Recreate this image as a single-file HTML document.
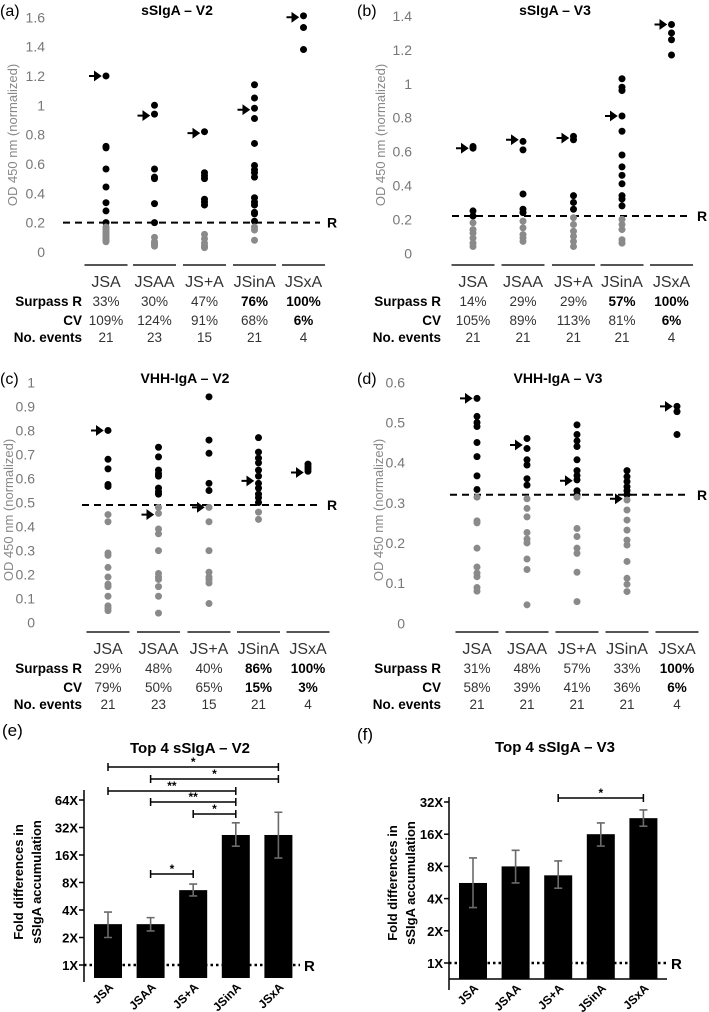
<!DOCTYPE html>
<html><head><meta charset="utf-8"><style>
html,body{margin:0;padding:0;background:#fff;}
svg{display:block;font-family:"Liberation Sans",Arial,sans-serif;}
</style></head><body>
<svg id="fig" width="709" height="1012" viewBox="0 0 709 1012" xmlns="http://www.w3.org/2000/svg"></svg>
<script>
const cats=["JSA","JSAA","JS+A","JSinA","JSxA"];
// Panel a: sSIgA V2
const aVals=[[1.2,0.72,0.71,0.566,0.443,0.336,0.28,0.2,0.17,0.15,0.13,0.11,0.10,0.09,0.08,0.08,0.07,0.12,0.14,0.16,0.09],
[1.0,0.94,0.566,0.51,0.5,0.33,0.2,0.1,0.06,0.04,0.05,0.07],
[0.82,0.54,0.52,0.5,0.36,0.34,0.32,0.12,0.09,0.06,0.03,0.04],
[1.14,1.05,0.98,0.91,0.74,0.59,0.56,0.54,0.51,0.37,0.34,0.32,0.27,0.26,0.21,0.17,0.15,0.08],
[1.61,1.53,1.38]];
const aArrow=[1.2,0.93,0.81,0.97,1.6];
const aR=0.2;
const aTicks=[0,0.2,0.4,0.6,0.8,1,1.2,1.4,1.6];
const aSurpass=["33%","30%","47%","76%","100%"];
const aCV=["109%","124%","91%","68%","6%"];
const aN=["21","23","15","21","4"];
// Panel b: sSIgA V3
const bVals=[[0.63,0.62,0.25,0.22,0.18,0.14,0.12,0.09,0.06,0.04],
[0.66,0.61,0.35,0.26,0.24,0.19,0.15,0.11,0.09,0.07],
[0.69,0.67,0.34,0.30,0.26,0.21,0.17,0.13,0.10,0.07,0.04],
[1.03,0.98,0.96,0.81,0.72,0.58,0.51,0.46,0.41,0.34,0.32,0.28,0.2,0.17,0.14,0.08,0.06],
[1.35,1.30,1.26,1.17]];
const bArrow=[0.62,0.67,0.68,0.81,1.35];
const bR=0.22;
const bTicks=[0,0.2,0.4,0.6,0.8,1,1.2,1.4];
const bSurpass=["14%","29%","29%","57%","100%"];
const bCV=["105%","89%","113%","81%","6%"];
const bN=["21","21","21","21","4"];
// Panel c: VHH-IgA V2
const cVals=[[0.80,0.68,0.64,0.575,0.567,0.45,0.42,0.29,0.28,0.23,0.19,0.16,0.15,0.11,0.07,0.06,0.05],
[0.73,0.69,0.635,0.62,0.61,0.56,0.545,0.535,0.48,0.455,0.39,0.37,0.30,0.205,0.19,0.18,0.15,0.11,0.04],
[0.94,0.76,0.705,0.58,0.55,0.48,0.42,0.30,0.21,0.19,0.18,0.165,0.08],
[0.77,0.71,0.685,0.665,0.635,0.61,0.58,0.56,0.535,0.52,0.50,0.46,0.43],
[0.66,0.65,0.64,0.63]];
const cArrow=[0.8,0.45,0.48,0.59,0.625];
const cR=0.49;
const cTicks=[0,0.1,0.2,0.3,0.4,0.5,0.6,0.7,0.8,0.9,1];
const cSurpass=["29%","48%","40%","86%","100%"];
const cCV=["79%","50%","65%","15%","3%"];
const cN=["21","23","15","21","4"];
// Panel d: VHH-IgA V3
const dVals=[[0.56,0.515,0.50,0.49,0.45,0.415,0.367,0.333,0.314,0.255,0.25,0.187,0.14,0.125,0.116,0.089,0.08],
[0.46,0.435,0.407,0.394,0.36,0.344,0.31,0.286,0.265,0.226,0.21,0.2,0.16,0.134,0.046],
[0.494,0.47,0.454,0.44,0.407,0.38,0.368,0.357,0.33,0.32,0.314,0.236,0.216,0.187,0.174,0.127,0.054],
[0.38,0.365,0.353,0.34,0.33,0.32,0.307,0.282,0.257,0.232,0.207,0.195,0.154,0.112,0.097,0.079],
[0.54,0.527,0.47]];
const dArrow=[0.56,0.444,0.355,0.31,0.54];
const dR=0.32;
const dTicks=[0,0.1,0.2,0.3,0.4,0.5,0.6];
const dSurpass=["31%","48%","57%","33%","100%"];
const dCV=["58%","39%","41%","36%","6%"];
const dN=["21","21","21","21","4"];
// Panel e / f bars (fold, log2 axis)
const eMean=[2.8,2.8,6.6,26.5,26.5];
const eHi=[3.8,3.3,7.7,36,47];
const eLo=[2.0,2.36,5.7,20,14.8];
const eTicks=[1,2,4,8,16,32,64];
const eSig=[[0,4,"*"],[1,4,"*"],[0,3,"**"],[1,3,"**"],[2,3,"*"],[1,2,"*"]];
const fMean=[5.6,8.0,6.6,16,22.6];
const fHi=[9.6,11.3,9.0,20.4,27];
const fLo=[3.3,5.6,5.0,12.4,19];
const fTicks=[1,2,4,8,16,32];
const fSig=[[2,4,"*"]];

const NS="http://www.w3.org/2000/svg";
const svg=document.getElementById('fig');
function mk(tag,attrs,parent){const e=document.createElementNS(NS,tag);for(const k in attrs)e.setAttribute(k,attrs[k]);(parent||svg).appendChild(e);return e;}
function txt(s,x,y,size,opts,parent){opts=opts||{};const t=mk('text',{x:x,y:y,'font-size':size,fill:opts.fill||'#000','text-anchor':opts.anchor||'middle','font-weight':opts.bold?'bold':'normal'},parent);if(opts.transform)t.setAttribute('transform',opts.transform);t.textContent=s;return t;}

function scatter(cfg){
  const g=mk('g',{});
  
  
  const y=v=>cfg.zero-v*cfg.scale;
  let t=txt(cfg.letter,cfg.letterX,cfg.top+6,16,{anchor:'start'},g);
  
  t=txt(cfg.title,cfg.titleX,cfg.top+5,14,{bold:true},g);
  
  cfg.ticks.forEach(v=>{const tl=txt(String(v),cfg.tickX,y(v)+5,14,{fill:'#777',anchor:'end'},g);
    });
  const yt=txt('OD 450 nm (normalized)',0,0,13,{fill:'#888',transform:`translate(${cfg.ytX},${cfg.ytY}) rotate(-90)`},g);
  
  const rl=mk('line',{x1:cfg.rX1,x2:cfg.rX2,y1:y(cfg.R),y2:y(cfg.R),stroke:'#000','stroke-width':2,'stroke-dasharray':'7,5'},g);
  
  const rt=txt('R',cfg.rLabelX,y(cfg.R)+5,14,{bold:true,anchor:'start'},g);
  
  cfg.vals.forEach((arr,i)=>{
    const cx=cfg.cols[i];
    arr.forEach(v=>{
      const c=mk('circle',{cx:cx,cy:y(v),r:3.5,fill:v>=cfg.R?'#000':'#8a8a8a'},g);
      
      
    });
    const ay=y(cfg.arrows[i]);
    const a=mk('path',{d:`M${cx-17},${ay} L${cx-10},${ay} M${cx-11},${ay-3.5} L${cx-6},${ay} L${cx-11},${ay+3.5} Z`,stroke:'#000','stroke-width':2,fill:'#000'},g);
    
    
    const gl=mk('line',{x1:cx-21.5,x2:cx+21.5,y1:cfg.lineY,y2:cfg.lineY,stroke:'#555','stroke-width':2},g);
    
    const cl=txt(cats[i],cx,cfg.lineY+22,16,{fill:'#333'},g);
    
  });
  const rows=[['Surpass R',cfg.surpass,cfg.lineY+41],['CV',cfg.cv,cfg.lineY+60],['No. events',cfg.n,cfg.lineY+77]];
  rows.forEach(r=>{
    const lb=txt(r[0],cfg.tabX,r[2],13.5,{bold:true,anchor:'end'},g);
    
    r[1].forEach((s,i)=>{
      const bold=(cfg.boldCells||[]).includes(r[0]+i);
      const vt=txt(s,cfg.cols[i],r[2],13.5,{fill:bold?'#000':'#333',bold:bold},g);
      
    });
  });
}

scatter({name:'panel-a',letter:'(a)',letterX:0,top:10,title:'sSIgA – V2',titleX:177,zero:252,scale:146.7,ticks:aTicks,tickX:45,ytX:17,ytY:135,
  R:aR,rX1:63,rX2:320,rLabelX:327,vals:aVals,arrows:aArrow,cols:[106,154.5,204.5,254.5,303.5],lineY:265,
  surpass:aSurpass,cv:aCV,n:aN,tabX:82,boldCells:['Surpass R3','Surpass R4','CV4']});
scatter({name:'panel-b',letter:'(b)',letterX:357,top:10,title:'sSIgA – V3',titleX:555,zero:253.3,scale:169.5,ticks:bTicks,tickX:412,ytX:385,ytY:135,
  R:bR,rX1:452,rX2:688,rLabelX:697,vals:bVals,arrows:bArrow,cols:[473,523,573.5,622,671.5],lineY:265,
  surpass:bSurpass,cv:bCV,n:bN,tabX:441,boldCells:['Surpass R3','Surpass R4','CV4']});
scatter({name:'panel-c',letter:'(c)',letterX:0,top:378,title:'VHH-IgA – V2',titleX:185,zero:622.7,scale:240.3,ticks:cTicks,tickX:35,ytX:13,ytY:510,
  R:cR,rX1:82,rX2:320,rLabelX:327,vals:cVals,arrows:cArrow,cols:[108,158.5,209,258.5,308],lineY:632,
  surpass:cSurpass,cv:cCV,n:cN,tabX:82,boldCells:['Surpass R3','Surpass R4','CV3','CV4']});
scatter({name:'panel-d',letter:'(d)',letterX:357,top:378,title:'VHH-IgA – V3',titleX:558,zero:623.3,scale:401.7,ticks:dTicks,tickX:405,ytX:383,ytY:510,
  R:dR,rX1:450,rX2:688,rLabelX:697,vals:dVals,arrows:dArrow,cols:[477,527,577,627,677],lineY:632,
  surpass:dSurpass,cv:dCV,n:dN,tabX:441,boldCells:['Surpass R4','CV4']});

function bars(cfg){
  const g=mk('g',{});
  
  
  const y=v=>cfg.one-Math.log2(v)*cfg.step;
  const cx=i=>cfg.x0+i*42.6;
  let t=txt(cfg.letter,cfg.letterX,cfg.letterY,17,{anchor:'start'},g);
  
  t=txt(cfg.title,cfg.titleX,cfg.titleY,15,{bold:true},g);
  
  const ax=mk('line',{x1:cfg.axX,x2:cfg.axX,y1:cfg.axTop,y2:cfg.axBot,stroke:'#000','stroke-width':1.5},g);
  
  if(cfg.xAxis){const xa=mk('line',{x1:cfg.axX,x2:cfg.xEnd,y1:cfg.xAxis,y2:cfg.xAxis,stroke:'#000','stroke-width':1.5},g);
    }
  cfg.ticks.forEach(v=>{
    const tk=mk('line',{x1:cfg.axX-5,x2:cfg.axX,y1:y(v),y2:y(v),stroke:'#000','stroke-width':1.5},g);
    
    const tl=txt(v+'X',cfg.axX-6,y(v)+5,13,{bold:true,anchor:'end'},g);
    
  });
  const y1=txt('Fold differences in',0,0,13,{bold:true,transform:`translate(${cfg.ytX},${cfg.ytY}) rotate(-90)`},g);
  
  const y2=txt('sSIgA accumulation',0,0,13,{bold:true,transform:`translate(${cfg.ytX+18},${cfg.ytY}) rotate(-90)`},g);
  
  cfg.mean.forEach((m,i)=>{
    const b=mk('rect',{x:cx(i)-14,y:y(m),width:28,height:cfg.barBot-y(m),fill:'#000'},g);
    
    
    const eb=mk('path',{d:`M${cx(i)},${y(cfg.hi[i])} L${cx(i)},${y(cfg.lo[i])} M${cx(i)-4},${y(cfg.hi[i])} L${cx(i)+4},${y(cfg.hi[i])} M${cx(i)-4},${y(cfg.lo[i])} L${cx(i)+4},${y(cfg.lo[i])}`,stroke:'#6a6a6a','stroke-width':1.6,fill:'none'},g);
    
    
    const xl=txt(cats[i],0,0,12,{bold:true,anchor:'end',transform:`translate(${cx(i)+6},${cfg.barBot+10}) rotate(-45)`},g);
    
  });
  const rl=mk('line',{x1:cfg.axX,x2:cfg.rEnd,y1:y(1),y2:y(1),stroke:'#000','stroke-width':2.5,'stroke-dasharray':'2.5,3'},g);
  
  const rt=txt('R',cfg.rEnd+4,y(1)+6,15,{bold:true,anchor:'start'},g);
  
  cfg.sig.forEach((s,k)=>{
    const by=cfg.sigY[k],xa=cx(s[0]),xb=cx(s[1]);
    const br=mk('path',{d:`M${xa},${by} L${xb},${by} M${xa},${by-4} L${xa},${by+4} M${xb},${by-4} L${xb},${by+4}`,stroke:'#000','stroke-width':1.5,fill:'none'},g);
    
    
    const st=txt(s[2],(xa+xb)/2,by-1,12,{bold:true},g);
    
    
  });
}
bars({name:'panel-e',letter:'(e)',letterX:2,letterY:736,title:'Top 4 sSIgA – V2',titleX:190,titleY:753,one:965,step:27.5,x0:108,
  axX:84,axTop:790,axBot:982,barBot:978,ticks:eTicks,mean:eMean,hi:eHi,lo:eLo,rEnd:300,ytX:23,ytY:882,
  sig:eSig,sigY:[767,779,791,802,814,874]});
bars({name:'panel-f',letter:'(f)',letterX:357,letterY:740,title:'Top 4 sSIgA – V3',titleX:555,titleY:752,one:963,step:32.2,x0:473,
  axX:449,axTop:797,axBot:990,barBot:979,xAxis:979,xEnd:667,ticks:fTicks,mean:fMean,hi:fHi,lo:fLo,rEnd:667,ytX:397,ytY:883,
  sig:fSig,sigY:[798]});
</script>
</body></html>
